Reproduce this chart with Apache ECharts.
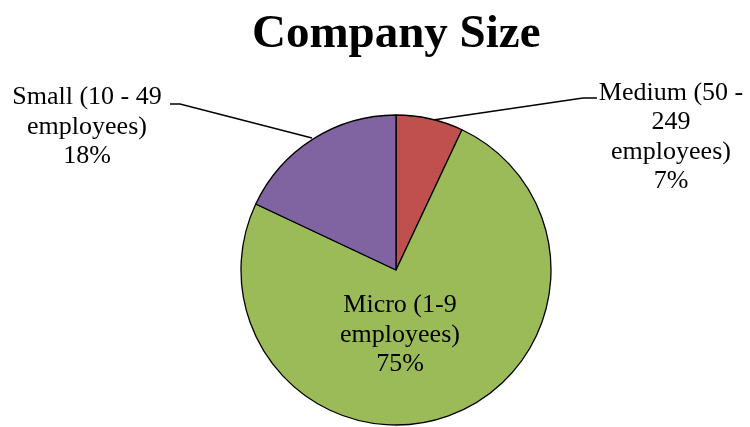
<!DOCTYPE html>
<html>
<head>
<meta charset="utf-8">
<script src="https://cdn.jsdelivr.net/npm/echarts@6/dist/echarts.min.js"></script>
<style>
html,body{margin:0;padding:0;background:#fff;}
#chart{width:750px;height:427px;}
</style>
</head>
<body>
<div id="chart"></div>
<script>
var names = ['Medium (50 -\n249\nemployees)', 'Micro (1-9\nemployees)', 'Small (10 - 49\nemployees)'];
var values = [7, 75, 18];
var colors = ['#C0504D', '#9BBB59', '#8064A2'];

var myChart = echarts.init(document.getElementById('chart'));
var data = [];
for(var i=0; i<names.length; i++){
	data.push({name: names[i], value: values[i], itemStyle: {color: colors[i]}})
}

// where each label sits, and its leader line
var labelPos = [
	{x: 671, y: 137, line: [[433,120],[583,98],[597,98]]},
	{x: 400, y: 335, line: null},
	{x: 87, y: 127, line: [[312,138],[180,104],[170,104]]}
];

var option = {
    title: {
        text: 'Company Size',
        left: 247,
        top: 6,
        textStyle: {
            fontFamily: 'Liberation Serif',
            fontWeight: 'bold',
            fontSize: 47,
            color: '#000'
        }
    },
    series: [
        {
            type: 'pie',
            center: [396, 270],
            radius: [0, 155],
            startAngle: 90,
            clockwise: true,
            animation: false,
            itemStyle: {
                borderColor: '#000',
                borderWidth: 1.3
            },
            label: {
                show: true,
                position: 'outside',
                formatter: '{b}\n{c}%',
                fontFamily: 'Liberation Serif',
                fontSize: 26,
                lineHeight: 29.5,
                color: '#000',
                align: 'center'
            },
            labelLine: {
                show: true,
                lineStyle: {color: '#000', width: 1.3}
            },
            labelLayout: function(params){
                var p = labelPos[params.dataIndex];
                var res = {x: p.x, y: p.y, align: 'center', verticalAlign: 'middle'};
                if(p.line) res.labelLinePoints = p.line;
                return res;
            },
            data: data
        }
    ]
};
option.series[0].data[1].labelLine = {show: false};
myChart.setOption(option);
</script>
</body>
</html>
